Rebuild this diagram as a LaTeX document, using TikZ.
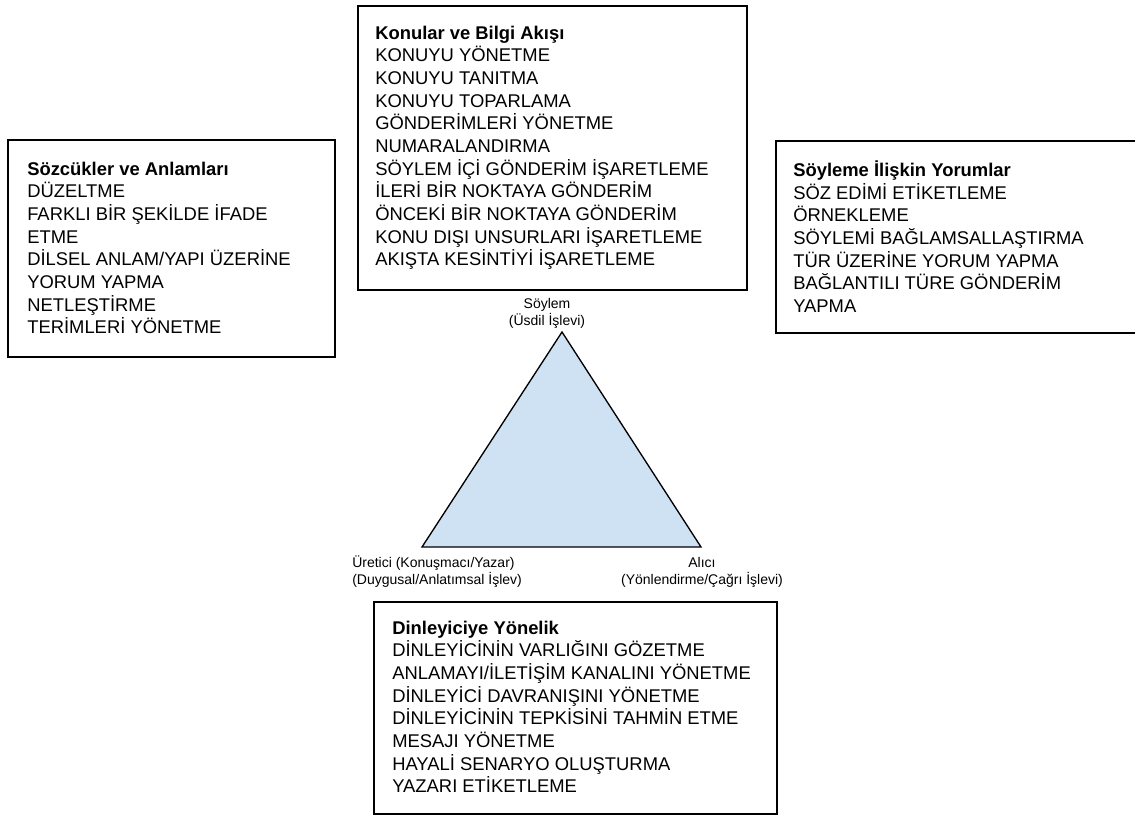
\documentclass[tikz,border=0pt]{standalone}
\usepackage{fontspec}
\setmainfont{Liberation Sans}
\definecolor{triblue}{RGB}{207,226,243}
\tikzset{
  boxframe/.style={draw=black, line width=1.3pt},
  boxtext/.style={anchor=north west, inner sep=0pt, align=left, yshift=11pt,
    font=\fontsize{13.8}{17}\selectfont},
  smalllabel/.style={inner sep=0pt, yshift=8.5pt,
    font=\fontsize{10.5}{12.75}\selectfont},
}
\newcommand{\firstline}{\rule{0pt}{11pt}}
\newcommand{\firstsmall}{\rule{0pt}{8.5pt}}
\begin{document}
\begin{tikzpicture}[x=0.75pt, y=-0.75pt]
\useasboundingbox (0,0) rectangle (1135,817);

% boxes
\draw[boxframe] (358,6) rectangle (747,290);
\draw[boxframe] (8,140) rectangle (335,357);
\draw[boxframe] (1135,141) -- (776,141) -- (776,333) -- (1135,333);
\draw[boxframe] (374,602) rectangle (777,814);

% top box text
\node[boxtext] (topics) at (375,39) {\firstline\textbf{Konular ve Bilgi Akışı}\\
KONUYU YÖNETME\\
KONUYU TANITMA\\
KONUYU TOPARLAMA\\
GÖNDERİMLERİ YÖNETME\\
NUMARALANDIRMA\\
SÖYLEM İÇİ GÖNDERİM İŞARETLEME\\
İLERİ BİR NOKTAYA GÖNDERİM\\
ÖNCEKİ BİR NOKTAYA GÖNDERİM\\
KONU DIŞI UNSURLARI İŞARETLEME\\
AKIŞTA KESİNTİYİ İŞARETLEME};

% left box text
\node[boxtext] (words) at (27,175) {\firstline\textbf{Sözcükler ve Anlamları}\\
DÜZELTME\\
FARKLI BİR ŞEKİLDE İFADE\\
ETME\\
DİLSEL ANLAM/YAPI ÜZERİNE\\
YORUM YAPMA\\
NETLEŞTİRME\\
TERİMLERİ YÖNETME};

% right box text
\node[boxtext] (comments) at (793,175) {\firstline\textbf{Söyleme İlişkin Yorumlar}\\
SÖZ EDİMİ ETİKETLEME\\
ÖRNEKLEME\\
SÖYLEMİ BAĞLAMSALLAŞTIRMA\\
TÜR ÜZERİNE YORUM YAPMA\\
BAĞLANTILI TÜRE GÖNDERİM\\
YAPMA};

% bottom box text
\node[boxtext] (listener) at (392,634) {\firstline\textbf{Dinleyiciye Yönelik}\\
DİNLEYİCİNİN VARLIĞINI GÖZETME\\
ANLAMAYI/İLETİŞİM KANALINI YÖNETME\\
DİNLEYİCİ DAVRANIŞINI YÖNETME\\
DİNLEYİCİNİN TEPKİSİNİ TAHMİN ETME\\
MESAJI YÖNETME\\
HAYALİ SENARYO OLUŞTURMA\\
YAZARI ETİKETLEME};

% triangle
\coordinate (apex) at (562,332);
\coordinate (bl) at (422,547);
\coordinate (br) at (701,547);
\draw[fill=triblue, line width=1pt, line join=miter] (apex) -- (bl) -- (br) -- cycle;

% triangle labels
\node[smalllabel, anchor=north, align=center] (discourse) at (547,308) {\firstsmall Söylem\\(Üsdil İşlevi)};
\node[smalllabel, anchor=north west, align=left] (producer) at (352,567) {\firstsmall Üretici (Konuşmacı/Yazar)\\(Duygusal/Anlatımsal İşlev)};
\node[smalllabel, anchor=north, align=center] (receiver) at (702,567) {\firstsmall Alıcı\\(Yönlendirme/Çağrı İşlevi)};
\end{tikzpicture}
\end{document}
